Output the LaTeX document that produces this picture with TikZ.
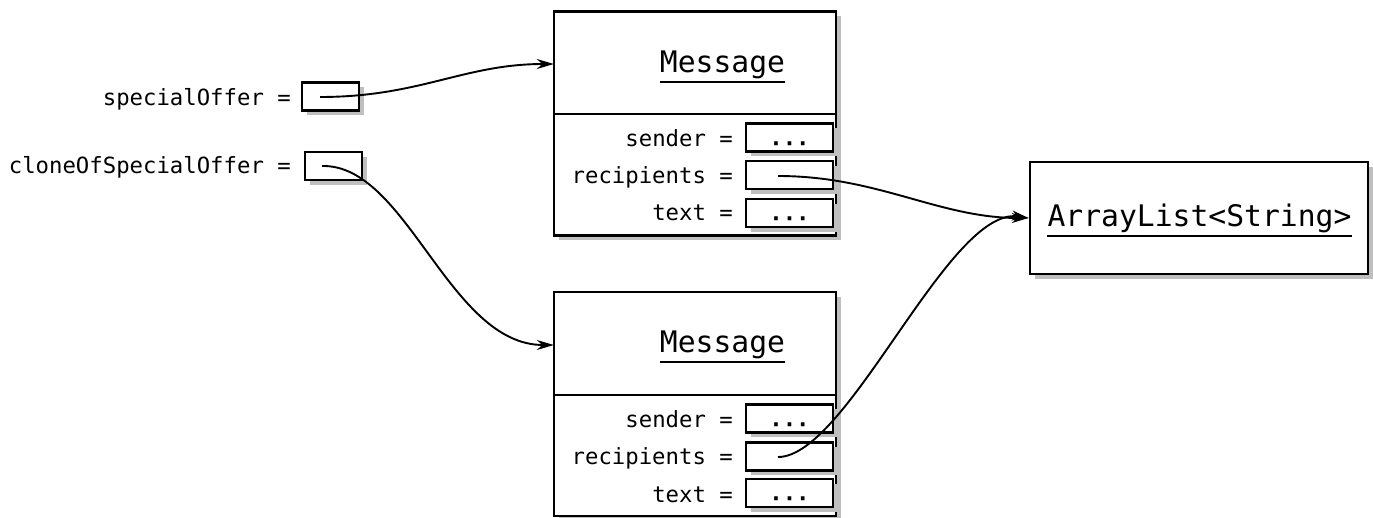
\documentclass[tikz,border=0pt]{standalone}
\usepackage{fontspec}
\setmonofont{DejaVu Sans Mono}
\usetikzlibrary{shadows,arrows.meta}
\begin{document}
\begin{tikzpicture}[x=1pt,y=-1pt,
  shad/.style={general shadow={fill=black!25, shadow xshift=4.5pt, shadow yshift=-4.5pt}},
  objbox/.style={draw, line width=2.6pt, fill=white, shad, minimum width=282pt, minimum height=224pt, inner sep=0pt},
  headbox/.style={minimum width=282pt, minimum height=103pt, inner sep=0pt},
  valbox/.style={draw, line width=2.2pt, fill=white, shad, minimum width=87pt, minimum height=28pt, inner sep=0pt, text height=27pt, text depth=0pt, font=\ttfamily\bfseries\fontsize{22.3}{24}\selectfont},
  ptrbox/.style={draw, line width=2.2pt, fill=white, shad, minimum width=57pt, minimum height=28pt, inner sep=0pt},
  lbl/.style={anchor=base east, inner sep=0pt, font=\ttfamily\fontsize{22.3}{24}\selectfont},
  ttl/.style={inner sep=0pt, font=\ttfamily\fontsize{29.7}{32}\selectfont},
  ref/.style={line width=1.9pt, -{Stealth[length=17pt, width=10pt]}},
  divider/.style={line width=1.8pt},
  uline/.style={line width=2pt}
]
\useasboundingbox (0,0) rectangle (1373,517);

% pointer variables
\node[lbl] (lso) at (291,105) {specialOffer =};
\node[ptrbox] (so) at (330.5,96.5) {};
\coordinate (sop) at (320,97);
\node[lbl] (lcso) at (291,173) {cloneOfSpecialOffer =};
\node[ptrbox] (cso) at (333.5,166) {};
\coordinate (csop) at (322,166);

% Message 1
\node[objbox] (m1) at (695,123.5) {};
\node[headbox] (m1h) at (695,64) {};
\node[ttl, anchor=base] (m1t) at (722.5,72) {Message};
\draw[uline] ([yshift=-3pt]m1t.south west) -- ([yshift=-3pt]m1t.south east);
\draw[divider] (m1.west |- 0,114) -- (m1.east |- 0,114);
\node[lbl] (m1ls) at (733,146) {sender =};
\node[valbox] (m1s) at (789.5,137.5) {\symbol{"00B7}\symbol{"00B7}\symbol{"00B7}};
\node[lbl] (m1lr) at (733,183) {recipients =};
\node[valbox] (m1r) at (789.5,175) {};
\coordinate (m1rp) at (778,176);
\node[lbl] (m1lx) at (733,220) {text =};
\node[valbox] (m1x) at (789.5,213) {\symbol{"00B7}\symbol{"00B7}\symbol{"00B7}};

% Message 2
\node[objbox] (m2) at (695,404) {};
\node[headbox] (m2h) at (695,345) {};
\node[ttl, anchor=base] (m2t) at (722.5,352) {Message};
\draw[uline] ([yshift=-3pt]m2t.south west) -- ([yshift=-3pt]m2t.south east);
\draw[divider] (m2.west |- 0,395) -- (m2.east |- 0,395);
\node[lbl] (m2ls) at (733,427) {sender =};
\node[valbox] (m2s) at (789.5,418.5) {\symbol{"00B7}\symbol{"00B7}\symbol{"00B7}};
\node[lbl] (m2lr) at (733,464) {recipients =};
\node[valbox] (m2r) at (789.5,456.5) {};
\coordinate (m2rp) at (778,457);
\node[lbl] (m2lx) at (733,502) {text =};
\node[valbox] (m2x) at (789.5,493) {\symbol{"00B7}\symbol{"00B7}\symbol{"00B7}};

% ArrayList
\node[draw, line width=2.6pt, fill=white, shad, minimum width=338pt, minimum height=112pt, inner sep=0pt] (al) at (1199,218) {};
\node[ttl, anchor=base] (alt) at (1199.5,226) {ArrayList<String>};
\draw[uline] ([yshift=-3pt]alt.south west) -- ([yshift=-3pt]alt.south east);

% references
\draw[ref] (sop) .. controls +(100,0) and +(-90,0) .. (m1h.west);
\draw[ref] (csop) .. controls +(85,-2) and +(-105,0) .. (m2h.west);
\draw[ref] (m1rp) .. controls +(100,0) and +(-90,0) .. (al.west);
\draw[ref] (m2rp) .. controls +(70,0) and +(-80,-12) .. (al.west);
\end{tikzpicture}
\end{document}
